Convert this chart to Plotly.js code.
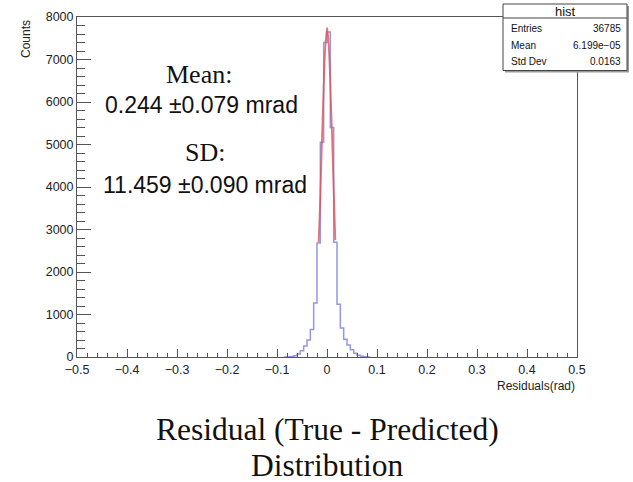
<!DOCTYPE html>
<html>
<head>
<meta charset="utf-8">
<script src="https://cdn.plot.ly/plotly-3.0.1.min.js"></script>
<style>
html,body{margin:0;padding:0;background:#fff;}
#chart{width:633px;height:482px;}
</style>
</head>
<body>
<div id="chart"></div>
<script>
// ---- data ----
const histMin = -0.5;
const histMax = 0.5;
const nBins = 150;
const firstBinIndex = -13;   // bin index k covers [k*w, (k+1)*w]
const binCounts = [0, 5, 10, 30, 70, 150, 260, 400, 650, 1270, 2680, 5050, 7400,
                   7650, 5400, 2700, 1240, 680, 420, 280, 170, 90, 40, 15, 5, 0];
const fitX = [-0.0167, -0.0133, -0.01, -0.0067, -0.0033, 0.0003, 0.0033, 0.0067, 0.01, 0.0133, 0.0167];
const fitY = [2700, 3800, 5150, 6350, 7300, 7750, 7350, 6400, 5250, 3950, 2750];
const xTickVals = [-0.5, -0.4, -0.3, -0.2, -0.1, 0, 0.1, 0.2, 0.3, 0.4, 0.5];
const yTickVals = [0, 1000, 2000, 3000, 4000, 5000, 6000, 7000, 8000];
const statsTitle = "hist";
const statsLabels = ["Entries", "Mean", "Std Dev"];
const statsValues = ["36785", "6.199e\u221205", "0.0163"];
const meanText = ["Mean:", "0.244 \u00b10.079 mrad"];
const sdText = ["SD:", "11.459 \u00b10.090 mrad"];
const captionLines = ["Residual (True - Predicted)", "Distribution"];

// ---- build histogram outline ----
const binW = (histMax - histMin) / nBins;
const edgesX = [], edgesY = [];
binCounts.forEach((c, i) => {
  edgesX.push((firstBinIndex + i) * binW);
  edgesY.push(c);
});
edgesX.push((firstBinIndex + binCounts.length) * binW);
edgesY.push(binCounts[binCounts.length - 1]);

// ---- layout helpers (pixel -> paper) ----
const W = 633, H = 482;
const M = {l: 77, r: 56, t: 17, b: 125};
const pw = W - M.l - M.r, ph = H - M.t - M.b;
const px = x => (x - M.l) / pw;
const py = y => (H - M.b - y) / ph;

const sans = "Liberation Sans, Arial, Helvetica, sans-serif";
const serif = "Liberation Serif, Times New Roman, serif";

const traces = [
  {
    x: edgesX, y: edgesY, type: "scatter", mode: "lines",
    line: {shape: "hv", color: "rgb(150,150,228)", width: 1.5},
    hoverinfo: "skip", showlegend: false
  },
  {
    x: fitX, y: fitY, type: "scatter", mode: "lines",
    line: {shape: "spline", color: "rgba(222,80,80,0.8)", width: 1.8},
    hoverinfo: "skip", showlegend: false
  }
];

const annotations = [];
function ann(text, x, y, font, xanchor) {
  annotations.push({text: text, xref: "paper", yref: "paper", x: px(x), y: py(y),
    xanchor: xanchor || "center", yanchor: "middle", showarrow: false, font: font});
}
ann(meanText[0], 199, 75, {family: serif, size: 26, color: "#111"});
ann(meanText[1], 201, 105, {family: sans, size: 23, color: "#111"});
ann(sdText[0], 205, 152, {family: serif, size: 26, color: "#111"});
ann(sdText[1], 205, 185, {family: sans, size: 23, color: "#111"});
ann(captionLines[0], 327, 430, {family: serif, size: 31.5, color: "#111"});
ann(captionLines[1], 327, 465, {family: serif, size: 31.5, color: "#111"});
ann("Residuals(rad)", 577, 386, {family: sans, size: 12, color: "#222"}, "right");
annotations.push({text: "Counts", xref: "paper", yref: "paper", x: px(26), y: py(18),
  xanchor: "center", yanchor: "top", textangle: -90, showarrow: false,
  font: {family: sans, size: 12, color: "#222"}});

// stats box
const bx0 = 503, bx1 = 627, by0 = 4, by1 = 70.5, byh = 18;
ann(statsTitle, 565, 11, {family: sans, size: 13, color: "#111"});
const rowY = [29, 45.5, 62];
statsLabels.forEach((s, i) => {
  ann(s, 509, rowY[i], {family: sans, size: 10, color: "#111"}, "left");
  ann(statsValues[i], 623, rowY[i], {family: sans, size: 10, color: "#111"}, "right");
});

const shapes = [
  {type: "rect", xref: "paper", yref: "paper", x0: px(bx0 + 2), x1: px(bx1 + 2), y0: py(by0 + 2), y1: py(by1 + 2),
   line: {width: 0}, fillcolor: "#999", layer: "above"},
  {type: "rect", xref: "paper", yref: "paper", x0: px(bx0), x1: px(bx1), y0: py(by0), y1: py(by1),
   line: {width: 1, color: "#444"}, fillcolor: "#fff", layer: "above"},
  {type: "line", xref: "paper", yref: "paper", x0: px(bx0), x1: px(bx1), y0: py(byh), y1: py(byh),
   line: {width: 1, color: "#444"}, layer: "above"}
];

const layout = {
  width: W, height: H,
  margin: M,
  paper_bgcolor: "#fff", plot_bgcolor: "#fff",
  showlegend: false,
  xaxis: {
    range: [histMin, histMax], tickvals: xTickVals,
    ticktext: xTickVals.map(v => v === 0 ? "0" : (v < 0 ? "\u2212" : "") + Math.abs(v).toString()),
    ticks: "inside", ticklen: 8, tickcolor: "#555", tickwidth: 1,
    minor: {ticks: "inside", ticklen: 4, dtick: 0.02, tickcolor: "#555", tickwidth: 1, showgrid: false},
    showline: true, linecolor: "#555", linewidth: 1, mirror: true,
    showgrid: false, zeroline: false, ticklabelstandoff: 1,
    tickfont: {family: sans, size: 12.5, color: "#222"}
  },
  yaxis: {
    range: [0, 8000], tickvals: yTickVals, ticktext: yTickVals.map(String),
    ticks: "inside", ticklen: 14, tickcolor: "#555", tickwidth: 1,
    minor: {ticks: "inside", ticklen: 8, dtick: 200, tickcolor: "#555", tickwidth: 1, showgrid: false},
    showline: true, linecolor: "#555", linewidth: 1, mirror: true,
    showgrid: false, zeroline: false,
    tickfont: {family: sans, size: 12.5, color: "#222"}
  },
  annotations: annotations,
  shapes: shapes
};

Plotly.newPlot("chart", traces, layout, {staticPlot: true, displayModeBar: false});
</script>
</body>
</html>
